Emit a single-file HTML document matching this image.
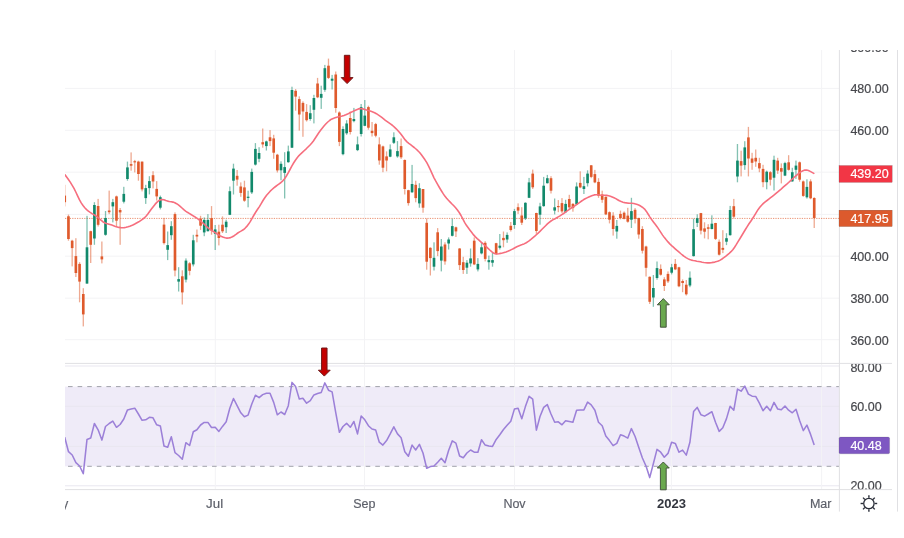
<!DOCTYPE html>
<html><head><meta charset="utf-8"><title>Chart</title>
<style>html,body{margin:0;padding:0;background:#fff;font-family:"Liberation Sans",sans-serif}svg{display:block;filter:blur(0.45px)}</style></head>
<body>
<svg width="904" height="538" viewBox="0 0 904 538">
<defs><clipPath id="cm"><rect x="65" y="50" width="774.4" height="313.4"/></clipPath><clipPath id="cr"><rect x="65" y="363.4" width="774.4" height="126.2"/></clipPath><clipPath id="ct"><rect x="65" y="489.6" width="774.4" height="22"/></clipPath><clipPath id="ca"><rect x="839.4" y="50" width="58" height="313.4"/></clipPath><clipPath id="cb"><rect x="839.4" y="364.1" width="58" height="125.2"/></clipPath></defs>
<rect width="904" height="538" fill="#fff"/>
<rect x="65" y="386.6" width="774.4" height="79.7" fill="#efebf8"/>
<g stroke="#f3f3f5" stroke-width="1" shape-rendering="auto">
<line x1="65" x2="839" y1="88.4" y2="88.4"/>
<line x1="65" x2="839" y1="130.3" y2="130.3"/>
<line x1="65" x2="839" y1="172.2" y2="172.2"/>
<line x1="65" x2="839" y1="214.4" y2="214.4"/>
<line x1="65" x2="839" y1="256.2" y2="256.2"/>
<line x1="65" x2="839" y1="298.2" y2="298.2"/>
<line x1="65" x2="839" y1="339.7" y2="339.7"/>
<line x1="65" x2="839" y1="366.0" y2="366.0" stroke="#e9e7f0"/>
<line x1="65" x2="839" y1="406.3" y2="406.3" stroke="#e9e7f0"/>
<line x1="65" x2="839" y1="446.4" y2="446.4" stroke="#e9e7f0"/>
<line x1="65" x2="839" y1="485.8" y2="485.8" stroke="#e9e7f0"/>
<line x1="215.3" x2="215.3" y1="50" y2="489.6"/>
<line x1="364.5" x2="364.5" y1="50" y2="489.6"/>
<line x1="514.5" x2="514.5" y1="50" y2="489.6"/>
<line x1="671.4" x2="671.4" y1="50" y2="489.6"/>
<line x1="821.6" x2="821.6" y1="50" y2="489.6"/>
</g>
<g stroke="#a0a2aa" stroke-width="1" stroke-dasharray="4.6 5.003" stroke-dashoffset="-3">
<line x1="65" x2="839" y1="386.6" y2="386.6"/><line x1="65" x2="839" y1="466.3" y2="466.3"/></g>
<line x1="65" x2="839" y1="218.4" y2="218.4" stroke="#df5a2c" stroke-width="1" stroke-dasharray="1.25 1.15" opacity="0.66"/>
<g clip-path="url(#cm)">
<rect x="64.10" y="184.8" width="1.30" height="21.6" fill="#df5a2c" opacity="0.52"/>
<rect x="63.42" y="195.6" width="2.65" height="6.6" fill="#df5a2c"/>
<rect x="67.80" y="214.6" width="1.30" height="26.1" fill="#df5a2c" opacity="0.52"/>
<rect x="67.13" y="216.3" width="2.65" height="22.7" fill="#df5a2c"/>
<rect x="71.51" y="239.8" width="1.30" height="26.6" fill="#df5a2c" opacity="0.52"/>
<rect x="70.84" y="240.7" width="2.65" height="7.4" fill="#df5a2c"/>
<rect x="75.22" y="238.2" width="1.30" height="38.8" fill="#df5a2c" opacity="0.52"/>
<rect x="74.55" y="256.1" width="2.65" height="16.9" fill="#df5a2c"/>
<rect x="78.93" y="262.2" width="1.30" height="40.1" fill="#df5a2c" opacity="0.52"/>
<rect x="78.25" y="263.9" width="2.65" height="17.7" fill="#df5a2c"/>
<rect x="82.64" y="288.2" width="1.30" height="38.2" fill="#df5a2c" opacity="0.52"/>
<rect x="81.96" y="294.0" width="2.65" height="20.4" fill="#df5a2c"/>
<rect x="86.35" y="215.8" width="1.30" height="67.8" fill="#11896b" opacity="0.52"/>
<rect x="85.67" y="247.3" width="2.65" height="36.3" fill="#11896b"/>
<rect x="90.05" y="230.7" width="1.30" height="32.3" fill="#df5a2c" opacity="0.52"/>
<rect x="89.38" y="231.2" width="2.65" height="13.6" fill="#df5a2c"/>
<rect x="93.76" y="202.2" width="1.30" height="42.6" fill="#11896b" opacity="0.52"/>
<rect x="93.09" y="205.0" width="2.65" height="33.5" fill="#11896b"/>
<rect x="97.47" y="198.9" width="1.30" height="27.6" fill="#df5a2c" opacity="0.52"/>
<rect x="96.80" y="206.0" width="2.65" height="18.8" fill="#df5a2c"/>
<rect x="101.21" y="241.5" width="1.30" height="21.9" fill="#df5a2c" opacity="0.52"/>
<rect x="100.53" y="256.4" width="2.65" height="3.0" fill="#df5a2c"/>
<rect x="104.87" y="211.0" width="1.30" height="24.7" fill="#11896b" opacity="0.52"/>
<rect x="104.19" y="218.0" width="2.65" height="16.8" fill="#11896b"/>
<rect x="108.52" y="190.6" width="1.30" height="23.5" fill="#df5a2c" opacity="0.52"/>
<rect x="107.85" y="210.5" width="2.65" height="1.7" fill="#df5a2c"/>
<rect x="112.18" y="198.9" width="1.30" height="23.5" fill="#11896b" opacity="0.52"/>
<rect x="111.50" y="202.2" width="2.65" height="4.2" fill="#11896b"/>
<rect x="115.83" y="195.6" width="1.30" height="30.9" fill="#df5a2c" opacity="0.52"/>
<rect x="115.16" y="196.4" width="2.65" height="24.3" fill="#df5a2c"/>
<rect x="119.49" y="208.0" width="1.30" height="36.8" fill="#df5a2c" opacity="0.52"/>
<rect x="118.81" y="210.0" width="2.65" height="2.4" fill="#df5a2c"/>
<rect x="123.15" y="186.8" width="1.30" height="16.6" fill="#11896b" opacity="0.52"/>
<rect x="122.47" y="193.9" width="2.65" height="7.8" fill="#11896b"/>
<rect x="126.80" y="161.6" width="1.30" height="19.1" fill="#11896b" opacity="0.52"/>
<rect x="126.13" y="167.4" width="2.65" height="11.6" fill="#11896b"/>
<rect x="130.46" y="152.4" width="1.30" height="18.3" fill="#df5a2c" opacity="0.52"/>
<rect x="129.78" y="164.1" width="2.65" height="1.6" fill="#df5a2c"/>
<rect x="134.11" y="159.9" width="1.30" height="12.5" fill="#df5a2c" opacity="0.52"/>
<rect x="133.44" y="161.2" width="2.65" height="1.2" fill="#df5a2c"/>
<rect x="137.77" y="160.7" width="1.30" height="20.0" fill="#df5a2c" opacity="0.52"/>
<rect x="137.10" y="161.6" width="2.65" height="12.4" fill="#df5a2c"/>
<rect x="141.43" y="161.6" width="1.30" height="29.8" fill="#df5a2c" opacity="0.52"/>
<rect x="140.75" y="161.6" width="2.65" height="27.8" fill="#df5a2c"/>
<rect x="145.08" y="184.8" width="1.30" height="19.1" fill="#11896b" opacity="0.52"/>
<rect x="144.41" y="188.1" width="2.65" height="10.0" fill="#11896b"/>
<rect x="148.74" y="176.2" width="1.30" height="18.2" fill="#11896b" opacity="0.52"/>
<rect x="148.06" y="181.1" width="2.65" height="7.0" fill="#11896b"/>
<rect x="152.39" y="171.2" width="1.30" height="17.2" fill="#df5a2c" opacity="0.52"/>
<rect x="151.72" y="175.2" width="2.65" height="6.3" fill="#df5a2c"/>
<rect x="156.05" y="181.1" width="1.30" height="19.5" fill="#df5a2c" opacity="0.52"/>
<rect x="155.38" y="188.9" width="2.65" height="7.5" fill="#df5a2c"/>
<rect x="159.71" y="195.6" width="1.30" height="13.8" fill="#11896b" opacity="0.52"/>
<rect x="159.03" y="197.2" width="2.65" height="10.5" fill="#11896b"/>
<rect x="163.36" y="217.9" width="1.30" height="26.6" fill="#df5a2c" opacity="0.52"/>
<rect x="162.69" y="224.6" width="2.65" height="18.5" fill="#df5a2c"/>
<rect x="167.02" y="231.5" width="1.30" height="28.6" fill="#11896b" opacity="0.52"/>
<rect x="166.34" y="245.1" width="2.65" height="4.7" fill="#11896b"/>
<rect x="170.67" y="221.2" width="1.30" height="18.6" fill="#11896b" opacity="0.52"/>
<rect x="170.00" y="226.2" width="2.65" height="9.0" fill="#11896b"/>
<rect x="174.33" y="212.4" width="1.30" height="63.9" fill="#df5a2c" opacity="0.52"/>
<rect x="173.66" y="214.1" width="2.65" height="56.4" fill="#df5a2c"/>
<rect x="177.99" y="267.2" width="1.30" height="24.3" fill="#11896b" opacity="0.52"/>
<rect x="177.31" y="279.1" width="2.65" height="2.5" fill="#11896b"/>
<rect x="181.64" y="270.3" width="1.30" height="34.2" fill="#df5a2c" opacity="0.52"/>
<rect x="180.97" y="276.3" width="2.65" height="16.1" fill="#df5a2c"/>
<rect x="185.30" y="258.4" width="1.30" height="24.0" fill="#11896b" opacity="0.52"/>
<rect x="184.62" y="260.6" width="2.65" height="19.0" fill="#11896b"/>
<rect x="188.95" y="262.2" width="1.30" height="13.1" fill="#df5a2c" opacity="0.52"/>
<rect x="188.28" y="263.3" width="2.65" height="7.5" fill="#df5a2c"/>
<rect x="192.61" y="234.8" width="1.30" height="31.6" fill="#11896b" opacity="0.52"/>
<rect x="191.94" y="240.3" width="2.65" height="24.1" fill="#11896b"/>
<rect x="196.27" y="229.5" width="1.30" height="12.8" fill="#df5a2c" opacity="0.52"/>
<rect x="195.59" y="234.8" width="2.65" height="1.7" fill="#df5a2c"/>
<rect x="199.92" y="215.8" width="1.30" height="14.1" fill="#df5a2c" opacity="0.52"/>
<rect x="199.25" y="218.6" width="2.65" height="7.1" fill="#df5a2c"/>
<rect x="203.58" y="217.4" width="1.30" height="18.8" fill="#11896b" opacity="0.52"/>
<rect x="202.90" y="219.9" width="2.65" height="12.5" fill="#11896b"/>
<rect x="207.23" y="214.1" width="1.30" height="17.4" fill="#11896b" opacity="0.52"/>
<rect x="206.56" y="219.9" width="2.65" height="11.3" fill="#11896b"/>
<rect x="210.89" y="206.1" width="1.30" height="28.6" fill="#df5a2c" opacity="0.52"/>
<rect x="210.22" y="218.1" width="2.65" height="12.4" fill="#df5a2c"/>
<rect x="214.55" y="225.0" width="1.30" height="25.0" fill="#11896b" opacity="0.52"/>
<rect x="213.87" y="229.4" width="2.65" height="4.4" fill="#11896b"/>
<rect x="218.20" y="224.7" width="1.30" height="20.7" fill="#df5a2c" opacity="0.52"/>
<rect x="217.53" y="231.7" width="2.65" height="6.3" fill="#df5a2c"/>
<rect x="221.86" y="216.4" width="1.30" height="16.6" fill="#df5a2c" opacity="0.52"/>
<rect x="221.18" y="224.7" width="2.65" height="6.6" fill="#df5a2c"/>
<rect x="225.51" y="219.7" width="1.30" height="13.3" fill="#11896b" opacity="0.52"/>
<rect x="224.84" y="221.7" width="2.65" height="5.5" fill="#11896b"/>
<rect x="229.17" y="186.5" width="1.30" height="28.6" fill="#11896b" opacity="0.52"/>
<rect x="228.50" y="191.2" width="2.65" height="23.6" fill="#11896b"/>
<rect x="232.83" y="163.7" width="1.30" height="30.8" fill="#11896b" opacity="0.52"/>
<rect x="232.15" y="168.6" width="2.65" height="12.1" fill="#11896b"/>
<rect x="236.48" y="170.0" width="1.30" height="15.7" fill="#df5a2c" opacity="0.52"/>
<rect x="235.81" y="175.8" width="2.65" height="3.8" fill="#df5a2c"/>
<rect x="240.14" y="182.4" width="1.30" height="14.4" fill="#df5a2c" opacity="0.52"/>
<rect x="239.46" y="186.5" width="2.65" height="6.4" fill="#df5a2c"/>
<rect x="243.79" y="180.7" width="1.30" height="21.1" fill="#df5a2c" opacity="0.52"/>
<rect x="243.12" y="187.4" width="2.65" height="13.3" fill="#df5a2c"/>
<rect x="247.45" y="190.7" width="1.30" height="16.6" fill="#11896b" opacity="0.52"/>
<rect x="246.78" y="196.7" width="2.65" height="1.2" fill="#11896b"/>
<rect x="251.11" y="168.6" width="1.30" height="25.4" fill="#11896b" opacity="0.52"/>
<rect x="250.43" y="171.9" width="2.65" height="20.5" fill="#11896b"/>
<rect x="254.76" y="143.1" width="1.30" height="22.4" fill="#11896b" opacity="0.52"/>
<rect x="254.09" y="148.9" width="2.65" height="15.7" fill="#11896b"/>
<rect x="258.42" y="147.2" width="1.30" height="15.0" fill="#11896b" opacity="0.52"/>
<rect x="257.74" y="153.0" width="2.65" height="5.8" fill="#11896b"/>
<rect x="262.07" y="128.5" width="1.30" height="19.2" fill="#df5a2c" opacity="0.52"/>
<rect x="261.40" y="142.2" width="2.65" height="2.2" fill="#df5a2c"/>
<rect x="265.73" y="140.6" width="1.30" height="9.9" fill="#11896b" opacity="0.52"/>
<rect x="265.06" y="141.4" width="2.65" height="4.7" fill="#11896b"/>
<rect x="269.39" y="130.1" width="1.30" height="16.0" fill="#df5a2c" opacity="0.52"/>
<rect x="268.71" y="137.3" width="2.65" height="3.8" fill="#df5a2c"/>
<rect x="273.04" y="134.8" width="1.30" height="24.0" fill="#df5a2c" opacity="0.52"/>
<rect x="272.37" y="138.4" width="2.65" height="14.3" fill="#df5a2c"/>
<rect x="276.70" y="153.9" width="1.30" height="18.6" fill="#df5a2c" opacity="0.52"/>
<rect x="276.02" y="154.7" width="2.65" height="15.7" fill="#df5a2c"/>
<rect x="280.35" y="161.3" width="1.30" height="18.9" fill="#11896b" opacity="0.52"/>
<rect x="279.68" y="163.8" width="2.65" height="6.5" fill="#11896b"/>
<rect x="284.01" y="152.2" width="1.30" height="46.3" fill="#11896b" opacity="0.52"/>
<rect x="283.34" y="167.1" width="2.65" height="5.8" fill="#11896b"/>
<rect x="287.67" y="145.6" width="1.30" height="17.1" fill="#11896b" opacity="0.52"/>
<rect x="286.99" y="151.4" width="2.65" height="10.8" fill="#11896b"/>
<rect x="291.32" y="86.7" width="1.30" height="61.3" fill="#11896b" opacity="0.52"/>
<rect x="290.65" y="90.0" width="2.65" height="57.7" fill="#11896b"/>
<rect x="294.98" y="89.1" width="1.30" height="21.6" fill="#df5a2c" opacity="0.52"/>
<rect x="294.30" y="90.8" width="2.65" height="5.8" fill="#df5a2c"/>
<rect x="298.63" y="96.3" width="1.30" height="34.3" fill="#df5a2c" opacity="0.52"/>
<rect x="297.96" y="99.1" width="2.65" height="15.4" fill="#df5a2c"/>
<rect x="302.29" y="101.3" width="1.30" height="35.5" fill="#df5a2c" opacity="0.52"/>
<rect x="301.62" y="102.9" width="2.65" height="8.6" fill="#df5a2c"/>
<rect x="305.95" y="104.1" width="1.30" height="17.4" fill="#df5a2c" opacity="0.52"/>
<rect x="305.27" y="111.9" width="2.65" height="8.3" fill="#df5a2c"/>
<rect x="309.60" y="105.2" width="1.30" height="15.5" fill="#11896b" opacity="0.52"/>
<rect x="308.93" y="113.2" width="2.65" height="5.8" fill="#11896b"/>
<rect x="313.26" y="94.8" width="1.30" height="28.6" fill="#11896b" opacity="0.52"/>
<rect x="312.58" y="98.0" width="2.65" height="11.8" fill="#11896b"/>
<rect x="316.91" y="77.9" width="1.30" height="20.2" fill="#df5a2c" opacity="0.52"/>
<rect x="316.24" y="83.5" width="2.65" height="13.8" fill="#df5a2c"/>
<rect x="320.57" y="85.7" width="1.30" height="23.2" fill="#11896b" opacity="0.52"/>
<rect x="319.89" y="93.9" width="2.65" height="3.9" fill="#11896b"/>
<rect x="324.20" y="64.9" width="1.30" height="26.9" fill="#11896b" opacity="0.52"/>
<rect x="323.52" y="68.2" width="2.65" height="21.6" fill="#11896b"/>
<rect x="327.83" y="58.6" width="1.30" height="20.4" fill="#df5a2c" opacity="0.52"/>
<rect x="327.15" y="65.7" width="2.65" height="12.2" fill="#df5a2c"/>
<rect x="331.46" y="74.9" width="1.30" height="14.6" fill="#11896b" opacity="0.52"/>
<rect x="330.78" y="78.7" width="2.65" height="2.0" fill="#11896b"/>
<rect x="335.09" y="71.5" width="1.30" height="41.2" fill="#df5a2c" opacity="0.52"/>
<rect x="334.41" y="74.5" width="2.65" height="33.5" fill="#df5a2c"/>
<rect x="338.72" y="111.4" width="1.30" height="34.7" fill="#df5a2c" opacity="0.52"/>
<rect x="338.04" y="112.5" width="2.65" height="29.4" fill="#df5a2c"/>
<rect x="342.35" y="126.3" width="1.30" height="29.0" fill="#11896b" opacity="0.52"/>
<rect x="341.68" y="129.0" width="2.65" height="25.2" fill="#11896b"/>
<rect x="345.98" y="120.2" width="1.30" height="14.6" fill="#11896b" opacity="0.52"/>
<rect x="345.31" y="123.5" width="2.65" height="9.8" fill="#11896b"/>
<rect x="349.61" y="111.5" width="1.30" height="23.0" fill="#df5a2c" opacity="0.52"/>
<rect x="348.94" y="118.0" width="2.65" height="14.0" fill="#df5a2c"/>
<rect x="353.24" y="107.9" width="1.30" height="14.4" fill="#11896b" opacity="0.52"/>
<rect x="352.57" y="119.0" width="2.65" height="2.1" fill="#11896b"/>
<rect x="356.87" y="136.5" width="1.30" height="14.6" fill="#11896b" opacity="0.52"/>
<rect x="356.20" y="144.4" width="2.65" height="5.7" fill="#11896b"/>
<rect x="360.50" y="104.0" width="1.30" height="32.5" fill="#11896b" opacity="0.52"/>
<rect x="359.83" y="107.1" width="2.65" height="26.9" fill="#11896b"/>
<rect x="364.14" y="100.0" width="1.30" height="26.2" fill="#11896b" opacity="0.52"/>
<rect x="363.46" y="115.6" width="2.65" height="10.2" fill="#11896b"/>
<rect x="367.77" y="105.7" width="1.30" height="24.0" fill="#df5a2c" opacity="0.52"/>
<rect x="367.09" y="107.1" width="2.65" height="20.6" fill="#df5a2c"/>
<rect x="371.40" y="122.0" width="1.30" height="14.5" fill="#df5a2c" opacity="0.52"/>
<rect x="370.72" y="130.8" width="2.65" height="2.3" fill="#df5a2c"/>
<rect x="375.03" y="122.9" width="1.30" height="14.4" fill="#df5a2c" opacity="0.52"/>
<rect x="374.35" y="124.1" width="2.65" height="11.6" fill="#df5a2c"/>
<rect x="378.66" y="137.3" width="1.30" height="27.4" fill="#df5a2c" opacity="0.52"/>
<rect x="377.98" y="144.4" width="2.65" height="16.1" fill="#df5a2c"/>
<rect x="382.29" y="145.6" width="1.30" height="26.6" fill="#df5a2c" opacity="0.52"/>
<rect x="381.62" y="146.4" width="2.65" height="21.3" fill="#df5a2c"/>
<rect x="385.92" y="151.4" width="1.30" height="19.9" fill="#df5a2c" opacity="0.52"/>
<rect x="385.25" y="156.4" width="2.65" height="4.1" fill="#df5a2c"/>
<rect x="389.55" y="144.4" width="1.30" height="12.8" fill="#11896b" opacity="0.52"/>
<rect x="388.88" y="149.4" width="2.65" height="7.3" fill="#11896b"/>
<rect x="393.18" y="132.3" width="1.30" height="11.7" fill="#11896b" opacity="0.52"/>
<rect x="392.51" y="137.3" width="2.65" height="5.5" fill="#11896b"/>
<rect x="396.81" y="141.1" width="1.30" height="16.6" fill="#11896b" opacity="0.52"/>
<rect x="396.14" y="151.1" width="2.65" height="5.3" fill="#11896b"/>
<rect x="400.45" y="138.5" width="1.30" height="20.4" fill="#df5a2c" opacity="0.52"/>
<rect x="399.78" y="146.1" width="2.65" height="11.2" fill="#df5a2c"/>
<rect x="404.11" y="159.4" width="1.30" height="35.1" fill="#df5a2c" opacity="0.52"/>
<rect x="403.43" y="160.0" width="2.65" height="29.0" fill="#df5a2c"/>
<rect x="407.76" y="189.8" width="1.30" height="15.8" fill="#df5a2c" opacity="0.52"/>
<rect x="407.09" y="190.2" width="2.65" height="12.9" fill="#df5a2c"/>
<rect x="411.42" y="164.9" width="1.30" height="27.9" fill="#11896b" opacity="0.52"/>
<rect x="410.75" y="184.0" width="2.65" height="8.3" fill="#11896b"/>
<rect x="415.08" y="180.7" width="1.30" height="21.6" fill="#df5a2c" opacity="0.52"/>
<rect x="414.40" y="184.8" width="2.65" height="13.3" fill="#df5a2c"/>
<rect x="418.73" y="183.2" width="1.30" height="24.5" fill="#11896b" opacity="0.52"/>
<rect x="418.06" y="188.2" width="2.65" height="15.2" fill="#11896b"/>
<rect x="422.39" y="189.0" width="1.30" height="23.7" fill="#df5a2c" opacity="0.52"/>
<rect x="421.71" y="189.0" width="2.65" height="18.7" fill="#df5a2c"/>
<rect x="426.04" y="218.5" width="1.30" height="51.2" fill="#df5a2c" opacity="0.52"/>
<rect x="425.37" y="222.8" width="2.65" height="38.9" fill="#df5a2c"/>
<rect x="429.70" y="247.3" width="1.30" height="28.2" fill="#df5a2c" opacity="0.52"/>
<rect x="429.03" y="247.8" width="2.65" height="10.3" fill="#df5a2c"/>
<rect x="433.36" y="242.3" width="1.30" height="28.2" fill="#11896b" opacity="0.52"/>
<rect x="432.68" y="257.8" width="2.65" height="8.9" fill="#11896b"/>
<rect x="437.01" y="228.1" width="1.30" height="28.0" fill="#df5a2c" opacity="0.52"/>
<rect x="436.34" y="232.3" width="2.65" height="18.8" fill="#df5a2c"/>
<rect x="440.67" y="239.0" width="1.30" height="32.4" fill="#11896b" opacity="0.52"/>
<rect x="439.99" y="246.5" width="2.65" height="14.1" fill="#11896b"/>
<rect x="444.32" y="242.3" width="1.30" height="22.4" fill="#df5a2c" opacity="0.52"/>
<rect x="443.65" y="244.5" width="2.65" height="16.9" fill="#df5a2c"/>
<rect x="447.98" y="237.4" width="1.30" height="12.1" fill="#11896b" opacity="0.52"/>
<rect x="447.31" y="239.5" width="2.65" height="4.0" fill="#11896b"/>
<rect x="451.64" y="218.6" width="1.30" height="17.8" fill="#11896b" opacity="0.52"/>
<rect x="450.96" y="226.1" width="2.65" height="9.7" fill="#11896b"/>
<rect x="455.29" y="226.6" width="1.30" height="10.4" fill="#df5a2c" opacity="0.52"/>
<rect x="454.62" y="227.3" width="2.65" height="4.1" fill="#df5a2c"/>
<rect x="458.95" y="248.1" width="1.30" height="21.9" fill="#df5a2c" opacity="0.52"/>
<rect x="458.27" y="248.5" width="2.65" height="16.6" fill="#df5a2c"/>
<rect x="462.60" y="256.8" width="1.30" height="17.1" fill="#df5a2c" opacity="0.52"/>
<rect x="461.93" y="262.2" width="2.65" height="7.8" fill="#df5a2c"/>
<rect x="466.26" y="260.1" width="1.30" height="13.8" fill="#11896b" opacity="0.52"/>
<rect x="465.59" y="262.7" width="2.65" height="5.0" fill="#11896b"/>
<rect x="469.92" y="248.5" width="1.30" height="18.2" fill="#11896b" opacity="0.52"/>
<rect x="469.24" y="258.4" width="2.65" height="5.0" fill="#11896b"/>
<rect x="473.57" y="237.4" width="1.30" height="27.7" fill="#df5a2c" opacity="0.52"/>
<rect x="472.90" y="240.7" width="2.65" height="23.7" fill="#df5a2c"/>
<rect x="477.23" y="258.1" width="1.30" height="13.3" fill="#11896b" opacity="0.52"/>
<rect x="476.55" y="263.9" width="2.65" height="5.5" fill="#11896b"/>
<rect x="480.88" y="242.3" width="1.30" height="12.1" fill="#11896b" opacity="0.52"/>
<rect x="480.21" y="247.3" width="2.65" height="6.1" fill="#11896b"/>
<rect x="484.54" y="241.2" width="1.30" height="20.2" fill="#df5a2c" opacity="0.52"/>
<rect x="483.87" y="242.8" width="2.65" height="16.1" fill="#df5a2c"/>
<rect x="488.20" y="255.6" width="1.30" height="14.1" fill="#11896b" opacity="0.52"/>
<rect x="487.52" y="260.1" width="2.65" height="2.1" fill="#11896b"/>
<rect x="491.85" y="252.3" width="1.30" height="14.4" fill="#11896b" opacity="0.52"/>
<rect x="491.18" y="260.1" width="2.65" height="2.6" fill="#11896b"/>
<rect x="495.51" y="242.8" width="1.30" height="12.0" fill="#df5a2c" opacity="0.52"/>
<rect x="494.83" y="243.2" width="2.65" height="10.7" fill="#df5a2c"/>
<rect x="499.16" y="234.0" width="1.30" height="15.5" fill="#11896b" opacity="0.52"/>
<rect x="498.49" y="245.7" width="2.65" height="2.1" fill="#11896b"/>
<rect x="502.82" y="231.5" width="1.30" height="15.8" fill="#df5a2c" opacity="0.52"/>
<rect x="502.15" y="237.9" width="2.65" height="2.3" fill="#df5a2c"/>
<rect x="506.48" y="232.4" width="1.30" height="10.4" fill="#11896b" opacity="0.52"/>
<rect x="505.80" y="234.9" width="2.65" height="4.6" fill="#11896b"/>
<rect x="510.13" y="222.0" width="1.30" height="9.5" fill="#df5a2c" opacity="0.52"/>
<rect x="509.46" y="225.8" width="2.65" height="4.2" fill="#df5a2c"/>
<rect x="513.79" y="208.9" width="1.30" height="19.9" fill="#11896b" opacity="0.52"/>
<rect x="513.11" y="211.1" width="2.65" height="13.9" fill="#11896b"/>
<rect x="517.44" y="203.4" width="1.30" height="10.5" fill="#df5a2c" opacity="0.52"/>
<rect x="516.77" y="207.2" width="2.65" height="3.4" fill="#df5a2c"/>
<rect x="521.10" y="207.2" width="1.30" height="17.8" fill="#df5a2c" opacity="0.52"/>
<rect x="520.42" y="215.5" width="2.65" height="7.2" fill="#df5a2c"/>
<rect x="524.76" y="202.3" width="1.30" height="17.7" fill="#11896b" opacity="0.52"/>
<rect x="524.08" y="202.8" width="2.65" height="15.6" fill="#11896b"/>
<rect x="528.41" y="177.9" width="1.30" height="20.2" fill="#11896b" opacity="0.52"/>
<rect x="527.74" y="182.4" width="2.65" height="15.4" fill="#11896b"/>
<rect x="532.07" y="169.6" width="1.30" height="19.4" fill="#df5a2c" opacity="0.52"/>
<rect x="531.39" y="173.6" width="2.65" height="13.7" fill="#df5a2c"/>
<rect x="535.72" y="212.7" width="1.30" height="21.1" fill="#df5a2c" opacity="0.52"/>
<rect x="535.05" y="213.0" width="2.65" height="18.0" fill="#df5a2c"/>
<rect x="539.38" y="202.8" width="1.30" height="21.9" fill="#11896b" opacity="0.52"/>
<rect x="538.70" y="206.4" width="2.65" height="8.3" fill="#11896b"/>
<rect x="543.04" y="176.9" width="1.30" height="29.9" fill="#11896b" opacity="0.52"/>
<rect x="542.36" y="185.7" width="2.65" height="20.4" fill="#11896b"/>
<rect x="546.69" y="174.9" width="1.30" height="8.6" fill="#11896b" opacity="0.52"/>
<rect x="546.02" y="178.2" width="2.65" height="5.0" fill="#11896b"/>
<rect x="550.35" y="176.2" width="1.30" height="17.3" fill="#df5a2c" opacity="0.52"/>
<rect x="549.67" y="178.2" width="2.65" height="12.5" fill="#df5a2c"/>
<rect x="554.00" y="198.5" width="1.30" height="15.9" fill="#11896b" opacity="0.52"/>
<rect x="553.33" y="207.3" width="2.65" height="3.3" fill="#11896b"/>
<rect x="557.66" y="200.1" width="1.30" height="12.1" fill="#df5a2c" opacity="0.52"/>
<rect x="556.98" y="206.0" width="2.65" height="1.2" fill="#df5a2c"/>
<rect x="561.32" y="198.1" width="1.30" height="15.0" fill="#df5a2c" opacity="0.52"/>
<rect x="560.64" y="203.1" width="2.65" height="8.3" fill="#df5a2c"/>
<rect x="564.97" y="199.8" width="1.30" height="13.3" fill="#11896b" opacity="0.52"/>
<rect x="564.30" y="203.9" width="2.65" height="8.3" fill="#11896b"/>
<rect x="568.63" y="194.8" width="1.30" height="14.1" fill="#df5a2c" opacity="0.52"/>
<rect x="567.95" y="199.0" width="2.65" height="8.3" fill="#df5a2c"/>
<rect x="572.28" y="203.1" width="1.30" height="8.6" fill="#df5a2c" opacity="0.52"/>
<rect x="571.61" y="203.9" width="2.65" height="4.2" fill="#df5a2c"/>
<rect x="575.94" y="182.4" width="1.30" height="22.4" fill="#11896b" opacity="0.52"/>
<rect x="575.26" y="186.5" width="2.65" height="17.9" fill="#11896b"/>
<rect x="579.60" y="171.3" width="1.30" height="16.9" fill="#df5a2c" opacity="0.52"/>
<rect x="578.92" y="182.9" width="2.65" height="4.5" fill="#df5a2c"/>
<rect x="583.25" y="176.9" width="1.30" height="17.1" fill="#11896b" opacity="0.52"/>
<rect x="582.58" y="186.2" width="2.65" height="2.8" fill="#11896b"/>
<rect x="586.91" y="170.3" width="1.30" height="16.2" fill="#11896b" opacity="0.52"/>
<rect x="586.23" y="173.6" width="2.65" height="9.6" fill="#11896b"/>
<rect x="590.56" y="165.0" width="1.30" height="13.2" fill="#df5a2c" opacity="0.52"/>
<rect x="589.89" y="165.3" width="2.65" height="11.6" fill="#df5a2c"/>
<rect x="594.22" y="169.9" width="1.30" height="13.3" fill="#df5a2c" opacity="0.52"/>
<rect x="593.54" y="174.1" width="2.65" height="8.3" fill="#df5a2c"/>
<rect x="597.88" y="178.2" width="1.30" height="19.6" fill="#df5a2c" opacity="0.52"/>
<rect x="597.20" y="181.9" width="2.65" height="13.8" fill="#df5a2c"/>
<rect x="601.53" y="190.7" width="1.30" height="12.1" fill="#df5a2c" opacity="0.52"/>
<rect x="600.86" y="194.5" width="2.65" height="5.3" fill="#df5a2c"/>
<rect x="605.19" y="196.5" width="1.30" height="18.6" fill="#df5a2c" opacity="0.52"/>
<rect x="604.51" y="196.8" width="2.65" height="17.6" fill="#df5a2c"/>
<rect x="608.84" y="211.4" width="1.30" height="12.0" fill="#df5a2c" opacity="0.52"/>
<rect x="608.17" y="212.2" width="2.65" height="7.5" fill="#df5a2c"/>
<rect x="612.50" y="212.2" width="1.30" height="23.4" fill="#df5a2c" opacity="0.52"/>
<rect x="611.82" y="215.6" width="2.65" height="13.4" fill="#df5a2c"/>
<rect x="616.16" y="220.0" width="1.30" height="18.7" fill="#11896b" opacity="0.52"/>
<rect x="615.48" y="225.9" width="2.65" height="5.6" fill="#11896b"/>
<rect x="619.81" y="210.6" width="1.30" height="8.8" fill="#df5a2c" opacity="0.52"/>
<rect x="619.14" y="213.9" width="2.65" height="4.1" fill="#df5a2c"/>
<rect x="623.47" y="211.4" width="1.30" height="8.0" fill="#df5a2c" opacity="0.52"/>
<rect x="622.79" y="212.7" width="2.65" height="6.2" fill="#df5a2c"/>
<rect x="627.12" y="207.8" width="1.30" height="14.9" fill="#df5a2c" opacity="0.52"/>
<rect x="626.45" y="215.6" width="2.65" height="6.1" fill="#df5a2c"/>
<rect x="630.78" y="197.8" width="1.30" height="30.2" fill="#11896b" opacity="0.52"/>
<rect x="630.11" y="211.1" width="2.65" height="8.6" fill="#11896b"/>
<rect x="634.44" y="208.1" width="1.30" height="15.3" fill="#df5a2c" opacity="0.52"/>
<rect x="633.76" y="209.8" width="2.65" height="9.1" fill="#df5a2c"/>
<rect x="638.09" y="217.7" width="1.30" height="21.0" fill="#df5a2c" opacity="0.52"/>
<rect x="637.42" y="218.0" width="2.65" height="16.5" fill="#df5a2c"/>
<rect x="641.75" y="226.2" width="1.30" height="27.3" fill="#df5a2c" opacity="0.52"/>
<rect x="641.07" y="229.0" width="2.65" height="21.7" fill="#df5a2c"/>
<rect x="645.40" y="245.7" width="1.30" height="30.8" fill="#df5a2c" opacity="0.52"/>
<rect x="644.73" y="246.5" width="2.65" height="21.3" fill="#df5a2c"/>
<rect x="649.06" y="276.4" width="1.30" height="27.6" fill="#df5a2c" opacity="0.52"/>
<rect x="648.38" y="276.8" width="2.65" height="25.0" fill="#df5a2c"/>
<rect x="652.72" y="275.0" width="1.30" height="31.8" fill="#11896b" opacity="0.52"/>
<rect x="652.04" y="288.0" width="2.65" height="9.5" fill="#11896b"/>
<rect x="656.37" y="261.5" width="1.30" height="18.2" fill="#11896b" opacity="0.52"/>
<rect x="655.70" y="268.1" width="2.65" height="9.9" fill="#11896b"/>
<rect x="660.03" y="264.4" width="1.30" height="11.2" fill="#df5a2c" opacity="0.52"/>
<rect x="659.35" y="268.9" width="2.65" height="5.8" fill="#df5a2c"/>
<rect x="663.68" y="277.2" width="1.30" height="13.8" fill="#df5a2c" opacity="0.52"/>
<rect x="663.01" y="279.4" width="2.65" height="6.6" fill="#df5a2c"/>
<rect x="667.34" y="271.4" width="1.30" height="11.6" fill="#df5a2c" opacity="0.52"/>
<rect x="666.66" y="273.9" width="2.65" height="7.5" fill="#df5a2c"/>
<rect x="671.00" y="263.9" width="1.30" height="10.5" fill="#11896b" opacity="0.52"/>
<rect x="670.32" y="267.3" width="2.65" height="5.4" fill="#11896b"/>
<rect x="674.65" y="259.0" width="1.30" height="11.1" fill="#df5a2c" opacity="0.52"/>
<rect x="673.98" y="263.9" width="2.65" height="5.5" fill="#df5a2c"/>
<rect x="678.31" y="266.8" width="1.30" height="20.4" fill="#df5a2c" opacity="0.52"/>
<rect x="677.63" y="267.3" width="2.65" height="19.0" fill="#df5a2c"/>
<rect x="681.96" y="279.4" width="1.30" height="12.8" fill="#df5a2c" opacity="0.52"/>
<rect x="681.29" y="281.0" width="2.65" height="2.0" fill="#df5a2c"/>
<rect x="685.62" y="280.0" width="1.30" height="15.5" fill="#df5a2c" opacity="0.52"/>
<rect x="684.94" y="284.7" width="2.65" height="9.6" fill="#df5a2c"/>
<rect x="689.28" y="271.4" width="1.30" height="15.8" fill="#11896b" opacity="0.52"/>
<rect x="688.60" y="277.7" width="2.65" height="7.8" fill="#11896b"/>
<rect x="692.93" y="218.7" width="1.30" height="37.8" fill="#11896b" opacity="0.52"/>
<rect x="692.26" y="229.2" width="2.65" height="26.9" fill="#11896b"/>
<rect x="696.59" y="214.3" width="1.30" height="12.7" fill="#11896b" opacity="0.52"/>
<rect x="695.91" y="218.2" width="2.65" height="4.7" fill="#11896b"/>
<rect x="700.24" y="212.9" width="1.30" height="21.5" fill="#df5a2c" opacity="0.52"/>
<rect x="699.57" y="213.1" width="2.65" height="17.5" fill="#df5a2c"/>
<rect x="703.90" y="222.3" width="1.30" height="16.1" fill="#df5a2c" opacity="0.52"/>
<rect x="703.23" y="228.4" width="2.65" height="3.3" fill="#df5a2c"/>
<rect x="707.56" y="224.2" width="1.30" height="15.1" fill="#df5a2c" opacity="0.52"/>
<rect x="706.88" y="227.3" width="2.65" height="1.5" fill="#df5a2c"/>
<rect x="711.21" y="215.3" width="1.30" height="14.1" fill="#11896b" opacity="0.52"/>
<rect x="710.54" y="223.7" width="2.65" height="5.3" fill="#11896b"/>
<rect x="714.87" y="222.8" width="1.30" height="17.2" fill="#df5a2c" opacity="0.52"/>
<rect x="714.19" y="223.0" width="2.65" height="15.9" fill="#df5a2c"/>
<rect x="718.52" y="239.5" width="1.30" height="16.0" fill="#df5a2c" opacity="0.52"/>
<rect x="717.85" y="241.8" width="2.65" height="12.9" fill="#df5a2c"/>
<rect x="722.18" y="230.2" width="1.30" height="22.9" fill="#df5a2c" opacity="0.52"/>
<rect x="721.50" y="247.9" width="2.65" height="1.9" fill="#df5a2c"/>
<rect x="725.84" y="233.2" width="1.30" height="11.9" fill="#11896b" opacity="0.52"/>
<rect x="725.16" y="238.2" width="2.65" height="3.5" fill="#11896b"/>
<rect x="729.49" y="205.9" width="1.30" height="29.7" fill="#11896b" opacity="0.52"/>
<rect x="728.82" y="210.0" width="2.65" height="25.2" fill="#11896b"/>
<rect x="733.15" y="198.9" width="1.30" height="19.4" fill="#df5a2c" opacity="0.52"/>
<rect x="732.47" y="206.2" width="2.65" height="10.5" fill="#df5a2c"/>
<rect x="736.80" y="144.0" width="1.30" height="38.3" fill="#11896b" opacity="0.52"/>
<rect x="736.13" y="160.6" width="2.65" height="15.9" fill="#11896b"/>
<rect x="740.46" y="150.7" width="1.30" height="25.7" fill="#df5a2c" opacity="0.52"/>
<rect x="739.78" y="161.1" width="2.65" height="4.5" fill="#df5a2c"/>
<rect x="744.12" y="141.2" width="1.30" height="28.6" fill="#11896b" opacity="0.52"/>
<rect x="743.44" y="147.4" width="2.65" height="17.7" fill="#11896b"/>
<rect x="747.77" y="126.9" width="1.30" height="49.5" fill="#df5a2c" opacity="0.52"/>
<rect x="747.10" y="137.4" width="2.65" height="21.1" fill="#df5a2c"/>
<rect x="751.43" y="152.8" width="1.30" height="17.0" fill="#df5a2c" opacity="0.52"/>
<rect x="750.75" y="158.5" width="2.65" height="4.3" fill="#df5a2c"/>
<rect x="755.08" y="149.5" width="1.30" height="17.3" fill="#df5a2c" opacity="0.52"/>
<rect x="754.41" y="157.8" width="2.65" height="3.7" fill="#df5a2c"/>
<rect x="758.74" y="157.8" width="1.30" height="14.4" fill="#df5a2c" opacity="0.52"/>
<rect x="758.06" y="163.1" width="2.65" height="5.3" fill="#df5a2c"/>
<rect x="762.40" y="164.8" width="1.30" height="22.4" fill="#df5a2c" opacity="0.52"/>
<rect x="761.72" y="168.9" width="2.65" height="13.3" fill="#df5a2c"/>
<rect x="766.05" y="170.6" width="1.30" height="18.7" fill="#11896b" opacity="0.52"/>
<rect x="765.38" y="171.7" width="2.65" height="10.5" fill="#11896b"/>
<rect x="769.71" y="171.1" width="1.30" height="14.4" fill="#df5a2c" opacity="0.52"/>
<rect x="769.03" y="172.2" width="2.65" height="7.5" fill="#df5a2c"/>
<rect x="773.36" y="155.7" width="1.30" height="34.8" fill="#11896b" opacity="0.52"/>
<rect x="772.69" y="159.8" width="2.65" height="17.9" fill="#11896b"/>
<rect x="777.02" y="157.8" width="1.30" height="16.1" fill="#df5a2c" opacity="0.52"/>
<rect x="776.35" y="160.6" width="2.65" height="10.0" fill="#df5a2c"/>
<rect x="780.68" y="163.4" width="1.30" height="20.0" fill="#df5a2c" opacity="0.52"/>
<rect x="780.00" y="168.1" width="2.65" height="3.6" fill="#df5a2c"/>
<rect x="784.33" y="161.8" width="1.30" height="14.3" fill="#11896b" opacity="0.52"/>
<rect x="783.66" y="163.1" width="2.65" height="12.5" fill="#11896b"/>
<rect x="787.99" y="155.2" width="1.30" height="15.4" fill="#df5a2c" opacity="0.52"/>
<rect x="787.31" y="162.3" width="2.65" height="7.5" fill="#df5a2c"/>
<rect x="791.64" y="167.8" width="1.30" height="13.9" fill="#11896b" opacity="0.52"/>
<rect x="790.97" y="172.2" width="2.65" height="9.2" fill="#11896b"/>
<rect x="795.30" y="160.6" width="1.30" height="18.3" fill="#11896b" opacity="0.52"/>
<rect x="794.62" y="165.6" width="2.65" height="4.2" fill="#11896b"/>
<rect x="798.96" y="161.5" width="1.30" height="20.2" fill="#df5a2c" opacity="0.52"/>
<rect x="798.28" y="162.3" width="2.65" height="17.4" fill="#df5a2c"/>
<rect x="802.61" y="180.5" width="1.30" height="16.3" fill="#df5a2c" opacity="0.52"/>
<rect x="801.94" y="181.4" width="2.65" height="14.5" fill="#df5a2c"/>
<rect x="806.27" y="179.3" width="1.30" height="19.3" fill="#11896b" opacity="0.52"/>
<rect x="805.59" y="186.9" width="2.65" height="10.4" fill="#11896b"/>
<rect x="809.92" y="179.3" width="1.30" height="19.9" fill="#df5a2c" opacity="0.52"/>
<rect x="809.25" y="181.4" width="2.65" height="16.9" fill="#df5a2c"/>
<rect x="813.58" y="197.2" width="1.30" height="30.8" fill="#df5a2c" opacity="0.52"/>
<rect x="812.90" y="198.0" width="2.65" height="20.0" fill="#df5a2c"/>
</g>
<polyline clip-path="url(#cm)" points="65.0,174.8 66.8,177.3 68.6,179.8 70.4,182.4 72.2,185.3 74.0,188.4 75.8,192.0 77.6,195.9 79.4,199.7 81.2,202.9 83.0,205.5 84.8,207.7 86.6,209.6 88.4,211.1 90.2,212.4 92.0,213.6 93.8,214.6 95.6,215.7 97.4,217.0 99.2,218.5 101.0,220.2 102.8,221.7 104.6,222.7 106.4,223.4 108.2,223.9 110.0,224.5 111.8,225.1 113.6,225.7 115.4,226.4 117.2,226.9 119.0,227.4 120.8,227.6 122.6,227.7 124.4,227.6 126.2,227.3 128.0,226.8 129.8,226.2 131.6,225.5 133.4,224.7 135.2,223.8 137.0,222.8 138.8,221.8 140.6,220.6 142.4,219.4 144.2,218.0 146.0,216.2 147.8,214.0 149.6,211.5 151.4,209.1 153.2,206.7 155.0,204.4 156.8,202.4 158.6,200.8 160.4,199.8 162.2,199.5 164.0,199.8 165.8,200.5 167.6,201.1 169.4,201.5 171.2,201.8 173.0,202.1 174.8,202.7 176.6,203.7 178.4,204.9 180.2,206.4 182.0,208.0 183.8,209.7 185.6,211.1 187.4,212.3 189.2,213.4 191.0,214.5 192.8,215.6 194.6,216.7 196.4,217.9 198.2,219.1 200.0,220.5 201.8,222.1 203.6,223.7 205.4,225.4 207.2,227.1 209.0,228.6 210.8,229.9 212.6,231.0 214.4,232.1 216.2,233.3 218.0,234.5 219.8,235.6 221.6,236.5 223.4,237.3 225.2,237.8 227.0,238.1 228.8,238.0 230.6,237.6 232.4,236.8 234.2,235.7 236.0,234.4 237.8,233.0 239.6,231.9 241.4,230.9 243.2,229.8 245.0,228.3 246.8,226.4 248.6,224.1 250.4,221.4 252.2,218.2 254.0,215.0 255.8,212.0 257.6,209.3 259.4,206.6 261.2,203.6 263.0,200.5 264.8,197.7 266.6,195.2 268.4,193.2 270.2,191.2 272.0,189.5 273.8,187.9 275.6,186.5 277.4,185.1 279.2,183.8 281.0,182.5 282.8,180.8 284.6,178.7 286.4,176.0 288.2,172.8 290.0,169.5 291.8,166.1 293.6,163.0 295.4,160.2 297.2,157.7 299.0,155.6 300.8,153.8 302.6,152.2 304.4,150.5 306.2,148.8 308.0,147.0 309.8,145.2 311.6,143.2 313.4,141.0 315.2,138.3 317.0,135.5 318.8,132.8 320.6,130.3 322.4,128.0 324.2,125.8 326.0,123.8 327.8,122.0 329.6,120.5 331.4,119.2 333.2,118.4 335.0,117.8 336.8,117.2 338.6,116.8 340.4,116.4 342.2,116.0 344.0,115.5 345.8,114.8 347.6,114.0 349.4,113.1 351.2,112.3 353.0,111.4 354.8,110.5 356.6,109.7 358.4,108.9 360.2,108.6 362.0,108.7 363.8,109.1 365.6,109.7 367.4,110.3 369.2,110.8 371.0,111.3 372.8,111.9 374.6,112.7 376.4,113.7 378.2,114.9 380.0,116.1 381.8,117.4 383.6,118.8 385.4,120.3 387.2,121.6 389.0,122.9 390.8,124.2 392.6,125.5 394.4,127.1 396.2,128.8 398.0,130.7 399.8,132.7 401.6,135.0 403.4,137.5 405.2,139.9 407.0,141.9 408.8,143.4 410.6,144.7 412.4,146.1 414.2,147.5 416.0,149.0 417.8,150.7 419.6,152.5 421.4,154.7 423.2,157.2 425.0,159.8 426.8,162.7 428.6,166.1 430.4,169.9 432.2,173.9 434.0,177.8 435.8,181.2 437.6,184.4 439.4,187.5 441.2,190.5 443.0,193.4 444.8,196.1 446.6,198.3 448.4,200.3 450.2,202.1 452.0,204.0 453.8,205.8 455.6,207.8 457.4,210.0 459.2,212.5 461.0,215.5 462.8,218.9 464.6,222.3 466.4,225.3 468.2,227.8 470.0,230.2 471.8,232.6 473.6,234.9 475.4,236.9 477.2,238.6 479.0,240.2 480.8,241.8 482.6,243.4 484.4,245.0 486.2,246.6 488.0,248.3 489.8,250.0 491.6,251.6 493.4,252.9 495.2,253.7 497.0,254.0 498.8,253.8 500.6,253.4 502.4,253.0 504.2,252.5 506.0,252.0 507.8,251.3 509.6,250.5 511.4,249.6 513.2,248.7 515.0,247.7 516.8,246.7 518.6,245.9 520.4,245.2 522.2,244.6 524.0,243.9 525.8,243.0 527.6,241.8 529.4,240.6 531.2,239.2 533.0,237.7 534.8,236.2 536.6,234.5 538.4,232.8 540.2,231.1 542.0,229.3 543.8,227.5 545.6,225.7 547.4,223.9 549.2,222.3 551.0,221.0 552.8,219.9 554.6,219.0 556.4,218.0 558.2,216.9 560.0,215.9 561.8,214.7 563.6,213.5 565.4,212.2 567.2,210.9 569.0,209.6 570.8,208.3 572.6,207.2 574.4,206.1 576.2,204.9 578.0,203.6 579.8,202.3 581.6,201.0 583.4,199.8 585.2,198.8 587.0,197.9 588.8,197.0 590.6,196.2 592.4,195.5 594.2,194.9 596.0,194.7 597.8,194.7 599.6,195.0 601.4,195.2 603.2,195.3 605.0,195.3 606.8,195.4 608.6,195.7 610.4,196.2 612.2,196.9 614.0,197.7 615.8,198.6 617.6,199.7 619.4,200.8 621.2,201.6 623.0,202.2 624.8,202.6 626.6,202.9 628.4,203.1 630.2,203.2 632.0,203.3 633.8,203.5 635.6,204.0 637.4,204.6 639.2,205.3 641.0,206.3 642.8,207.5 644.6,209.1 646.4,211.4 648.2,214.2 650.0,217.1 651.8,219.8 653.6,222.2 655.4,224.5 657.2,226.9 659.0,229.6 660.8,232.4 662.6,235.1 664.4,237.6 666.2,239.8 668.0,241.9 669.8,243.9 671.6,245.6 673.4,247.2 675.2,248.8 677.0,250.4 678.8,251.9 680.6,253.5 682.4,255.0 684.2,256.4 686.0,257.6 687.8,258.6 689.6,259.5 691.4,260.1 693.2,260.5 695.0,260.8 696.8,261.2 698.6,261.5 700.4,261.8 702.2,262.2 704.0,262.5 705.8,262.7 707.6,262.9 709.4,262.9 711.2,262.7 713.0,262.4 714.8,262.1 716.6,261.6 718.4,261.0 720.2,260.1 722.0,259.0 723.8,257.7 725.6,256.3 727.4,254.8 729.2,253.3 731.0,251.7 732.8,249.7 734.6,247.2 736.4,244.4 738.2,241.4 740.0,238.5 741.8,235.5 743.6,232.5 745.4,229.5 747.2,226.6 749.0,223.8 750.8,221.2 752.6,218.5 754.4,215.6 756.2,212.6 758.0,209.7 759.8,207.3 761.6,205.2 763.4,203.4 765.2,201.8 767.0,200.5 768.8,199.1 770.6,197.7 772.4,196.3 774.2,194.9 776.0,193.4 777.8,191.9 779.6,190.3 781.4,188.8 783.2,187.2 785.0,185.6 786.8,184.1 788.6,182.5 790.4,180.8 792.2,179.2 794.0,177.5 795.8,175.9 797.6,174.3 799.4,172.9 801.2,171.6 803.0,170.7 804.8,170.1 806.6,170.0 808.4,170.5 810.2,171.4 812.0,172.4 813.8,173.4" fill="none" stroke="#f66e7e" stroke-width="1.6" stroke-linejoin="round" stroke-linecap="round"/>
<polyline clip-path="url(#cr)" points="64.7,437.2 68.5,451.7 72.2,455.0 75.9,462.6 79.6,466.0 83.3,473.7 87.0,439.4 90.7,438.1 94.4,423.5 98.1,429.8 101.9,440.1 105.5,426.5 109.2,423.5 112.8,421.1 116.5,427.3 120.1,424.5 123.8,419.0 127.5,409.9 131.1,409.0 134.8,408.2 138.4,414.0 142.1,420.3 145.7,419.8 149.4,417.3 153.0,417.8 156.7,424.8 160.4,426.1 164.0,446.0 167.7,447.2 171.3,436.7 175.0,452.7 178.6,455.5 182.3,459.3 185.9,442.7 189.6,445.5 193.3,431.8 196.9,429.8 200.6,425.0 204.2,422.4 207.9,422.4 211.5,427.5 215.2,427.2 218.9,431.4 222.5,426.4 226.2,421.8 229.8,408.2 233.5,398.5 237.1,405.7 240.8,412.8 244.4,416.8 248.1,415.1 251.8,404.0 255.4,395.2 259.1,397.7 262.7,394.6 266.4,393.2 270.0,393.2 273.7,402.4 277.3,414.8 281.0,412.0 284.7,414.5 288.3,405.7 292.0,382.4 295.6,386.6 299.3,399.0 302.9,398.2 306.6,403.2 310.3,400.7 313.9,394.9 317.6,393.6 321.2,392.4 324.8,382.9 328.5,390.2 332.1,391.9 335.7,412.3 339.4,432.3 343.0,426.5 346.6,423.3 350.3,427.3 353.9,421.5 357.5,433.9 361.2,416.0 364.8,419.8 368.4,425.7 372.0,429.0 375.7,430.1 379.3,442.2 382.9,445.1 386.6,440.6 390.2,433.9 393.8,426.8 397.5,433.9 401.1,437.8 404.8,451.7 408.4,456.3 412.1,445.1 415.7,450.0 419.4,444.4 423.0,453.0 426.7,468.3 430.4,466.6 434.0,466.0 437.7,462.2 441.3,458.3 445.0,462.7 448.6,450.5 452.3,440.9 455.9,443.1 459.6,456.0 463.3,457.7 466.9,453.0 470.6,450.0 474.2,452.2 477.9,452.2 481.5,439.8 485.2,445.1 488.8,446.1 492.5,446.4 496.2,439.4 499.8,434.8 503.5,429.5 507.1,425.2 510.8,421.2 514.4,409.1 518.1,408.2 521.8,418.7 525.4,406.6 529.1,396.3 532.7,399.1 536.4,430.1 540.0,416.5 543.7,407.4 547.3,404.6 551.0,414.0 554.7,422.3 558.3,421.8 562.0,424.8 565.6,420.7 569.3,421.5 572.9,422.3 576.6,410.2 580.2,409.9 583.9,409.9 587.6,402.1 591.2,404.9 594.9,410.2 598.5,422.3 602.2,425.7 605.8,436.1 609.5,440.6 613.1,445.6 616.8,443.4 620.5,434.8 624.1,436.1 627.8,438.1 631.4,428.6 635.1,436.5 638.7,447.3 642.4,458.0 646.1,466.3 649.7,477.6 653.4,463.5 657.0,449.4 660.7,452.2 664.3,457.2 668.0,453.4 671.6,442.3 675.3,443.4 679.0,452.2 682.6,450.1 686.3,455.1 689.9,442.3 693.6,411.6 697.2,407.4 700.9,414.7 704.6,416.1 708.2,414.0 711.9,411.7 715.5,422.3 719.2,431.4 722.8,427.8 726.5,418.6 730.1,406.2 733.8,410.2 737.5,389.1 741.1,391.2 744.8,386.1 748.4,394.1 752.1,396.2 755.7,396.4 759.4,403.1 763.0,410.7 766.7,406.2 770.4,410.7 774.0,402.4 777.7,409.0 781.3,409.8 785.0,406.0 788.6,410.2 792.3,412.8 796.0,409.3 799.6,420.6 803.3,430.6 806.9,425.1 810.6,434.4 814.2,445.0" fill="none" stroke="#9c80d8" stroke-width="1.55" stroke-linejoin="round"/>
<g stroke="#e0e0e3" stroke-width="1">
<line x1="65" x2="892" y1="363.4" y2="363.4"/>
<line x1="65" x2="892" y1="489.6" y2="489.6"/>
<line x1="839.4" x2="839.4" y1="50" y2="511.6"/>
<line x1="897.5" x2="897.5" y1="50" y2="511.6"/>
</g>
<polygon points="344.35,55.30 349.85,55.30 349.85,77.60 353.00,77.60 347.10,83.60 341.20,77.60 344.35,77.60" fill="#c40000" stroke="#6b1515" stroke-width="0.95" stroke-linejoin="miter"/>
<polygon points="321.55,348.00 327.05,348.00 327.05,370.20 330.20,370.20 324.30,376.10 318.40,370.20 321.55,370.20" fill="#c40000" stroke="#6b1515" stroke-width="0.95" stroke-linejoin="miter"/>
<polygon points="663.30,298.60 669.30,304.80 666.20,304.80 666.20,327.20 660.40,327.20 660.40,304.80 657.30,304.80" fill="#6aa84f" stroke="#40503a" stroke-width="0.95" stroke-linejoin="miter"/>
<polygon points="663.30,462.00 669.30,468.00 666.20,468.00 666.20,489.80 660.40,489.80 660.40,468.00 657.30,468.00" fill="#6aa84f" stroke="#40503a" stroke-width="0.95" stroke-linejoin="miter"/>
<g font-family="Liberation Sans, sans-serif" font-size="12.5" fill="#46474c" stroke="#46474c" stroke-width="0.18">
<g clip-path="url(#ca)">
<text x="850.4" y="51.6">500.00</text>
<text x="850.4" y="93.2">480.00</text>
<text x="850.4" y="135.1">460.00</text>
<text x="850.4" y="261.0">400.00</text>
<text x="850.4" y="303.0">380.00</text>
<text x="850.4" y="344.5">360.00</text>
</g><g clip-path="url(#cb)">
<text x="850.4" y="371.8">80.00</text>
<text x="850.4" y="411.1">60.00</text>
<text x="850.4" y="490.2">20.00</text>
</g>
<rect x="839" y="165.5" width="53.2" height="16.9" fill="#f23645"/><text x="850.4" y="178.4" fill="#fff" stroke="#fff">439.20</text>
<rect x="839" y="210.1" width="53.2" height="16.5" fill="#dc5a2d"/><text x="850.4" y="222.8" fill="#fff" stroke="#fff">417.95</text>
<rect x="839" y="437.1" width="50.6" height="16.7" rx="1.5" fill="#7e57c2"/><text x="850.4" y="449.9" fill="#fff" stroke="#fff">40.48</text>
<g text-anchor="middle" fill="#5c5f69" stroke="#5c5f69" clip-path="url(#ct)">
<text x="56.5" y="508.2">May</text>
<text x="214.6" y="508.2" textLength="17" lengthAdjust="spacingAndGlyphs">Jul</text>
<text x="364.3" y="508.2">Sep</text>
<text x="514.5" y="508.2">Nov</text>
<text x="820.7" y="508.2">Mar</text>
<text x="671.4" y="508.2" font-weight="bold" fill="#33363f" stroke="none" textLength="29" lengthAdjust="spacingAndGlyphs">2023</text>
</g></g>
<g stroke="#2a2e39" fill="none">
<circle cx="868.9" cy="503.5" r="5.2" stroke-width="1.3"/>
<line x1="874.70" y1="503.50" x2="877.20" y2="503.50" stroke-width="1.4"/>
<line x1="873.00" y1="507.60" x2="874.77" y2="509.37" stroke-width="1.4"/>
<line x1="868.90" y1="509.30" x2="868.90" y2="511.80" stroke-width="1.4"/>
<line x1="864.80" y1="507.60" x2="863.03" y2="509.37" stroke-width="1.4"/>
<line x1="863.10" y1="503.50" x2="860.60" y2="503.50" stroke-width="1.4"/>
<line x1="864.80" y1="499.40" x2="863.03" y2="497.63" stroke-width="1.4"/>
<line x1="868.90" y1="497.70" x2="868.90" y2="495.20" stroke-width="1.4"/>
<line x1="873.00" y1="499.40" x2="874.77" y2="497.63" stroke-width="1.4"/>
</g>
</svg>
</body></html>
